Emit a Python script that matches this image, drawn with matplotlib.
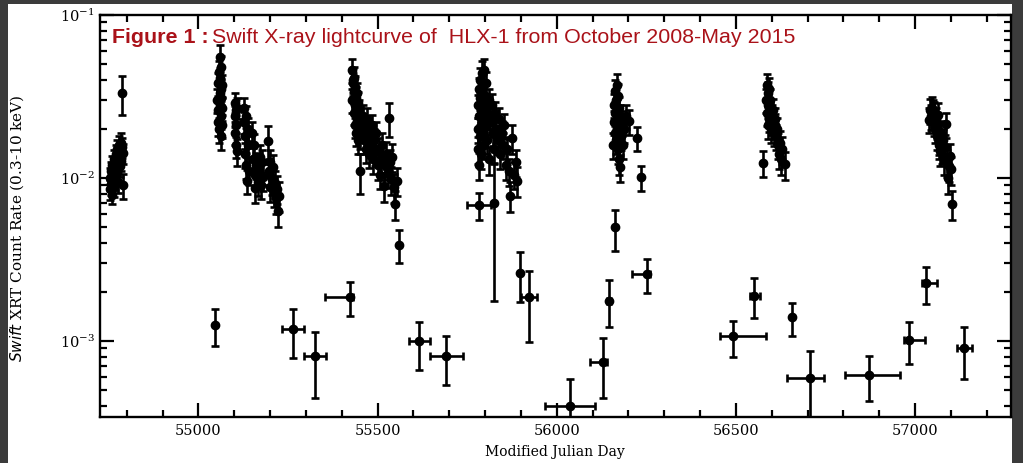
import numpy as np
import matplotlib
matplotlib.use("Agg")
import matplotlib.pyplot as plt
from matplotlib.patches import Rectangle
from matplotlib.ticker import FixedLocator, MultipleLocator, NullFormatter

# bright (monitoring) points: MJD, count rate, 1-sigma error
bright_mjd = [
    # 2008 outburst
    54752, 54754, 54756, 54757, 54759, 54760, 54762, 54763, 54765, 54766, 54768,
    54769, 54771, 54772, 54774, 54775, 54777, 54778, 54780, 54781, 54783, 54784,
    54786, 54787, 54789, 54790,
    # 2009 outburst
    55053, 55054, 55055, 55056, 55057, 55058, 55059, 55060, 55060, 55061, 55062,
    55062, 55063, 55064, 55064, 55065, 55066, 55066,
    55101, 55102, 55103, 55104, 55105, 55106, 55107, 55108,
    55126, 55128, 55130, 55131, 55133, 55134, 55136, 55137, 55139, 55140,
    55150, 55153, 55155, 55157, 55159, 55162, 55165, 55168, 55171, 55174, 55177, 55180,
    55195, 55197, 55199, 55201, 55204, 55207, 55210, 55213, 55216, 55219, 55221, 55224,
    # 2010 outburst
    55429, 55430, 55431, 55432, 55433, 55434, 55435, 55436, 55437, 55438, 55439,
    55440, 55441, 55442, 55443, 55444, 55445, 55447, 55449, 55451, 55452, 55455,
    55458, 55461, 55464, 55467, 55470, 55473, 55476, 55479, 55482, 55485, 55488,
    55491, 55494, 55497, 55500, 55503, 55506, 55510, 55513, 55517, 55520, 55524,
    55528, 55531, 55534, 55538, 55541, 55545, 55550, 55553, 55559,
    # 2011 outburst
    55779, 55780, 55781, 55782, 55783, 55784, 55785, 55786, 55787, 55788, 55789,
    55790, 55791, 55792, 55793, 55794, 55795, 55796, 55797, 55798, 55799, 55800,
    55802, 55804, 55806, 55808, 55810, 55812, 55815, 55818, 55821, 55824, 55828,
    55831, 55835, 55838, 55842, 55846, 55850, 55854, 55858, 55862, 55866, 55871,
    55876, 55880, 55885, 55890,
    # 2012 outburst
    56158, 56160, 56161, 56162, 56163, 56164, 56165, 56166, 56167, 56168, 56169,
    56170, 56171, 56172, 56173, 56174, 56175, 56176, 56177, 56178, 56180, 56182,
    56185, 56188, 56192, 56202, 56224, 56235,
    # 2013 outburst
    56575, 56585, 56587, 56588, 56589, 56590, 56591, 56592, 56593, 56594, 56596,
    56598, 56600, 56602, 56604, 56606, 56608, 56610, 56613, 56616, 56619, 56621,
    56624, 56627, 56630, 56637,
    # 2015 outburst
    57038, 57042, 57045, 57048, 57050, 57052, 57054, 57056, 57058, 57060, 57062,
    57064, 57066, 57068, 57070, 57072, 57075, 57078, 57081, 57084, 57087, 57090,
    57092, 57095, 57097, 57100, 57104,
]
bright_rate = [
    0.0085, 0.0100, 0.0092, 0.0110, 0.0079, 0.0120, 0.0105, 0.0088, 0.0130, 0.0098, 0.0115,
    0.0140, 0.0108, 0.0125, 0.0150, 0.0095, 0.0135, 0.0160, 0.0118, 0.0145, 0.0165, 0.0128,
    0.0332, 0.0155, 0.0142, 0.0090,
    0.030, 0.022, 0.038, 0.026, 0.045, 0.020, 0.033, 0.055, 0.028, 0.041, 0.018,
    0.035, 0.024, 0.048, 0.031, 0.027, 0.037, 0.021,
    0.029, 0.024, 0.019, 0.026, 0.016, 0.021, 0.0146, 0.027,
    0.027, 0.022, 0.018, 0.014, 0.024, 0.012, 0.0096, 0.016, 0.020, 0.011,
    0.019, 0.013, 0.016, 0.0105, 0.0087, 0.012, 0.0095, 0.011, 0.0135, 0.0091, 0.0125, 0.0102,
    0.0168, 0.011, 0.0125, 0.0088, 0.0098, 0.0116, 0.0082, 0.0093, 0.0075, 0.0086, 0.0063, 0.0078,
    0.030, 0.046, 0.040, 0.038, 0.025, 0.034, 0.041, 0.028, 0.021, 0.036, 0.031,
    0.026, 0.019, 0.033, 0.023, 0.017, 0.029, 0.022, 0.026, 0.018, 0.011, 0.021,
    0.024, 0.017, 0.020, 0.015, 0.023, 0.018, 0.014, 0.019, 0.016, 0.021, 0.013,
    0.017, 0.0145, 0.019, 0.012, 0.015, 0.0105, 0.013, 0.016, 0.0089, 0.012, 0.014,
    0.0108, 0.0234, 0.0125, 0.0098, 0.0135, 0.0088, 0.0069, 0.0096, 0.0039,
    0.020, 0.028, 0.015, 0.035, 0.024, 0.012, 0.031, 0.040, 0.018, 0.026, 0.033,
    0.014, 0.022, 0.044, 0.029, 0.019, 0.037, 0.025, 0.046, 0.016, 0.032, 0.021,
    0.027, 0.038, 0.017, 0.024, 0.030, 0.013, 0.022, 0.028, 0.019, 0.015, 0.025,
    0.020, 0.017, 0.023, 0.014, 0.019, 0.016, 0.021, 0.012, 0.015, 0.011, 0.0078,
    0.0176, 0.0105, 0.0125, 0.0096,
    0.016, 0.022, 0.028, 0.019, 0.034, 0.025, 0.017, 0.030, 0.037, 0.021, 0.026,
    0.015, 0.023, 0.032, 0.019, 0.027, 0.013, 0.021, 0.024, 0.0116, 0.018, 0.022,
    0.016, 0.020, 0.024, 0.0223, 0.0176, 0.0101,
    0.0124, 0.030, 0.037, 0.025, 0.033, 0.021, 0.028, 0.035, 0.023, 0.030, 0.026,
    0.020, 0.024, 0.022, 0.026, 0.019, 0.023, 0.021, 0.018, 0.020, 0.016, 0.014,
    0.0164, 0.013, 0.015, 0.0121,
    0.0228, 0.026, 0.024, 0.027, 0.0257, 0.022, 0.025, 0.020, 0.023, 0.018, 0.021,
    0.0245, 0.016, 0.0168, 0.0146, 0.019, 0.015, 0.017, 0.013, 0.0155, 0.0213, 0.0125,
    0.010, 0.0118, 0.0136, 0.0113, 0.0069,
]
bright_err = [
    0.0012, 0.0015, 0.0013, 0.0016, 0.0010, 0.0017, 0.0015, 0.0012, 0.0018, 0.0014, 0.0016,
    0.0020, 0.0015, 0.0018, 0.0021, 0.0014, 0.0019, 0.0022, 0.0017, 0.0020, 0.0023, 0.0018,
    0.0088, 0.0022, 0.0020, 0.0016,
    0.005, 0.004, 0.006, 0.004, 0.007, 0.0035, 0.005, 0.010, 0.0045, 0.0065, 0.0032,
    0.0055, 0.004, 0.008, 0.005, 0.0045, 0.006, 0.0035,
    0.004, 0.0035, 0.003, 0.004, 0.0028, 0.0032, 0.0027, 0.004,
    0.004, 0.0035, 0.003, 0.0025, 0.0038, 0.0022, 0.0016, 0.0028, 0.0032, 0.002,
    0.003, 0.0023, 0.0027, 0.002, 0.0017, 0.0022, 0.0018, 0.002, 0.0024, 0.0017, 0.0023, 0.0019,
    0.004, 0.002, 0.0023, 0.0017, 0.0019, 0.0022, 0.0016, 0.0018, 0.0015, 0.0017, 0.0013, 0.0016,
    0.005, 0.008, 0.007, 0.006, 0.004, 0.0055, 0.007, 0.0045, 0.0035, 0.006, 0.005,
    0.0042, 0.0032, 0.0055, 0.0038, 0.003, 0.0048, 0.0037, 0.0043, 0.003, 0.003, 0.0035,
    0.004, 0.003, 0.0034, 0.0027, 0.0038, 0.0031, 0.0025, 0.0032, 0.0028, 0.0035, 0.0024,
    0.003, 0.0026, 0.0032, 0.0023, 0.0027, 0.002, 0.0024, 0.0028, 0.0018, 0.0023, 0.0026,
    0.0021, 0.0055, 0.0024, 0.0019, 0.0026, 0.0018, 0.0014, 0.0019, 0.00088,
    0.0035, 0.0045, 0.0028, 0.006, 0.004, 0.0023, 0.005, 0.007, 0.0032, 0.0043, 0.0055,
    0.0026, 0.0037, 0.008, 0.0048, 0.0033, 0.0062, 0.0042, 0.008, 0.0029, 0.0053, 0.0036,
    0.0045, 0.0065, 0.003, 0.004, 0.005, 0.0025, 0.0037, 0.0047, 0.0033, 0.0028, 0.0042,
    0.0035, 0.003, 0.0039, 0.0026, 0.0033, 0.0029, 0.0036, 0.0023, 0.0028, 0.0021, 0.0016,
    0.0035, 0.002, 0.0024, 0.002,
    0.003, 0.0037, 0.0047, 0.0033, 0.006, 0.0042, 0.003, 0.005, 0.0065, 0.0036, 0.0044,
    0.0028, 0.0039, 0.0055, 0.0033, 0.0046, 0.0025, 0.0036, 0.0041, 0.0022, 0.0032, 0.0038,
    0.0029, 0.0035, 0.004, 0.004, 0.003, 0.0018,
    0.0022, 0.005, 0.0065, 0.0042, 0.0057, 0.0036, 0.0047, 0.006, 0.0039, 0.005, 0.0044,
    0.0035, 0.004, 0.0037, 0.0044, 0.0033, 0.0039, 0.0036, 0.0032, 0.0035, 0.0029, 0.0026,
    0.003, 0.0025, 0.0028, 0.0024,
    0.004, 0.0045, 0.0042, 0.0046, 0.0044, 0.0038, 0.0043, 0.0035, 0.004, 0.0032, 0.0037,
    0.0042, 0.0029, 0.003, 0.0027, 0.0034, 0.0028, 0.003, 0.0025, 0.0029, 0.0037, 0.0024,
    0.002, 0.0023, 0.0026, 0.0022, 0.0014,
]

# faint / stacked points with asymmetric errors
faint_mjd = [55047, 55265, 55326, 55424, 55617, 55692, 55783, 55825, 55897, 55923,
             56037, 56128, 56146, 56162, 56251, 56493, 56552, 56656, 56707, 56871,
             56982, 57032, 57137]
faint_rate = [1.25e-3, 1.18e-3, 8.07e-4, 1.86e-3, 9.96e-4, 8.1e-4, 6.8e-3, 7.06e-3, 2.62e-3, 1.85e-3,
              4.0e-4, 7.45e-4, 1.77e-3, 4.97e-3, 2.58e-3, 1.07e-3, 1.90e-3, 1.40e-3, 5.94e-4, 6.16e-4,
              1.01e-3, 2.26e-3, 9.06e-4]
faint_err_lo = [3.2e-4, 3.9e-4, 3.6e-4, 4.4e-4, 3.3e-4, 2.7e-4, 1.3e-3, 5.3e-3, 8.9e-4, 8.6e-4,
                1.83e-4, 3.0e-4, 5.6e-4, 1.42e-3, 6.0e-4, 2.7e-4, 5.1e-4, 3.2e-4, 2.7e-4, 1.9e-4,
                2.9e-4, 5.8e-4, 3.2e-4]
faint_err_hi = [3.1e-4, 3.8e-4, 3.3e-4, 4.4e-4, 3.2e-4, 2.7e-4, 1.3e-3, 5.3e-3, 9.1e-4, 8.5e-4,
                1.83e-4, 3.0e-4, 5.8e-4, 1.41e-3, 6.1e-4, 2.5e-4, 5.3e-4, 3.2e-4, 2.7e-4, 1.9e-4,
                3.0e-4, 6.0e-4, 3.1e-4]
faint_dt_lo = [0, 31, 31, 70, 28, 47, 34, 0, 0, 23,
               70, 34, 5, 0, 41, 36, 12, 0, 64, 66,
               14, 13, 21]
faint_dt_hi = [0, 31, 31, 8, 28, 47, 34, 0, 0, 23,
               70, 11, 5, 0, 10, 91, 15, 0, 40, 86,
               45, 29, 21]

fig = plt.figure(figsize=(10.23, 4.63), dpi=100, facecolor="#3b3b3b")
fig.patches.append(Rectangle((8 / 1023, 0), 1004 / 1023, 459 / 463,
                             transform=fig.transFigure, facecolor="white",
                             edgecolor="none", zorder=-10))
ax = fig.add_axes([0.0973, 0.1, 0.891, 0.8676])

eb = dict(fmt="o", color="black", ms=6, elinewidth=1.9, capsize=3.2, capthick=1.9)
ax.errorbar(bright_mjd, bright_rate, yerr=bright_err, **eb)

fm = np.array(faint_mjd)
fr = np.array(faint_rate)
flo = np.array(faint_err_lo)
fhi = np.array(faint_err_hi)
dlo = np.array(faint_dt_lo)
dhi = np.array(faint_dt_hi)
has_dt = (dlo + dhi) > 0
ax.errorbar(fm[has_dt], fr[has_dt], yerr=[flo[has_dt], fhi[has_dt]],
            xerr=[dlo[has_dt], dhi[has_dt]], **eb)
ax.errorbar(fm[~has_dt], fr[~has_dt], yerr=[flo[~has_dt], fhi[~has_dt]], **eb)

ax.set_yscale("log")
ax.set_xlim(54724, 57268)
ax.set_ylim(3.43e-4, 0.1)
ax.xaxis.set_major_locator(FixedLocator([55000, 55500, 56000, 56500, 57000]))
ax.xaxis.set_minor_locator(MultipleLocator(100))
ax.yaxis.set_minor_formatter(NullFormatter())

for s in ax.spines.values():
    s.set_linewidth(1.7)
ax.tick_params(which="both", direction="in", top=True, right=True, width=1.6)
ax.tick_params(which="major", length=10, labelsize=10.5)
ax.tick_params(axis="x", which="major", pad=5)
ax.tick_params(axis="y", which="major", pad=3.5)
ax.tick_params(which="minor", length=5)
for lab in ax.get_xticklabels() + ax.get_yticklabels():
    lab.set_family("DejaVu Serif")

ax.set_xlabel("Modified Julian Day", family="DejaVu Serif", fontsize=10, labelpad=5)
ax.set_ylabel(r"$\mathit{Swift}$ XRT Count Rate (0.3-10 keV)", family="DejaVu Serif",
              fontsize=11, labelpad=24)
ax.yaxis.label.set_y(0.47)

# title written inside the axes, bold prefix then regular text
red = "#aa1219"
t1 = ax.text(0.0137, 0.930, "Figure 1 :", transform=ax.transAxes, color=red,
             fontsize=15.4, fontweight="bold", family="Liberation Sans", va="baseline")
fig.canvas.draw()
bb = t1.get_window_extent().transformed(ax.transAxes.inverted())
ax.text(bb.x1 + 0.004, 0.930, "Swift X-ray lightcurve of  HLX-1 from October 2008-May 2015",
        transform=ax.transAxes, color=red, fontsize=15.4, family="Liberation Sans",
        va="baseline")

fig.savefig("out.png", dpi=100, facecolor=fig.get_facecolor())
